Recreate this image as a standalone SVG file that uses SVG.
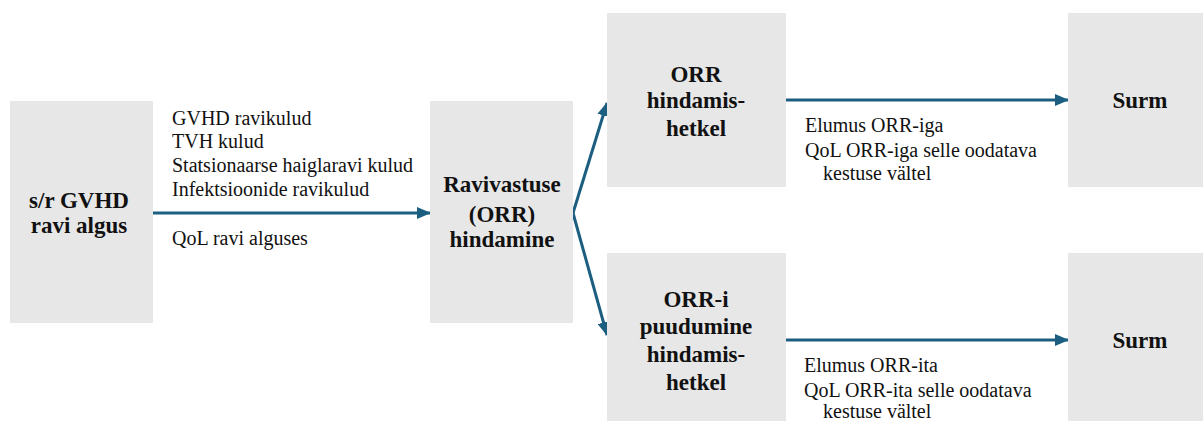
<svg xmlns="http://www.w3.org/2000/svg" width="1203" height="421" viewBox="0 0 1203 421">
<style>
.box{fill:#e7e7e7}
.nt{font-family:"Liberation Serif","Times New Roman",serif;font-weight:bold;font-size:23px;fill:#111;text-anchor:middle}
.lt{font-family:"Liberation Serif","Times New Roman",serif;font-size:20px;fill:#111}
.cn{stroke:#1b5e80;stroke-width:3;fill:none;marker-end:url(#ah)}
</style>
<defs>
<marker id="ah" markerUnits="userSpaceOnUse" markerWidth="14" markerHeight="12" refX="13" refY="6" orient="auto">
<path d="M0,0 L14,6 L0,12 Z" fill="#1b5e80"/>
</marker>
</defs>
<rect width="1203" height="421" fill="#fff"/>
<g id="connectors">
<line class="cn" x1="153" y1="213" x2="430" y2="213"/>
<line class="cn" x1="573" y1="213" x2="607" y2="103"/>
<line class="cn" x1="573" y1="213" x2="607" y2="335"/>
<line class="cn" x1="786" y1="100" x2="1068" y2="100"/>
<line class="cn" x1="786" y1="340" x2="1068" y2="340"/>
</g>
<g id="labels">
<text class="lt" x="172" y="125">GVHD ravikulud</text>
<text class="lt" x="172" y="148">TVH kulud</text>
<text class="lt" x="172" y="172">Statsionaarse haiglaravi kulud</text>
<text class="lt" x="172" y="196">Infektsioonide ravikulud</text>
<text class="lt" x="172" y="245">QoL ravi alguses</text>
<text class="lt" x="805" y="132">Elumus ORR-iga</text>
<text class="lt" x="805" y="157">QoL ORR-iga selle oodatava</text>
<text class="lt" x="823" y="180">kestuse vältel</text>
<text class="lt" x="804" y="372">Elumus ORR-ita</text>
<text class="lt" x="804" y="397">QoL ORR-ita selle oodatava</text>
<text class="lt" x="823" y="418">kestuse vältel</text>
</g>
<g id="start">
<rect class="box" x="10" y="101" width="143" height="222"/>
<text class="nt" x="79" y="208">s/r GVHD</text>
<text class="nt" x="79" y="233">ravi algus</text>
</g>
<g id="assess">
<rect class="box" x="430" y="101" width="143" height="222"/>
<text class="nt" x="502" y="192">Ravivastuse</text>
<text class="nt" x="502" y="222">(ORR)</text>
<text class="nt" x="502" y="247">hindamine</text>
</g>
<g id="orr">
<rect class="box" x="607" y="13" width="179" height="174"/>
<text class="nt" x="696" y="82">ORR</text>
<text class="nt" x="696" y="108">hindamis-</text>
<text class="nt" x="696" y="136">hetkel</text>
</g>
<g id="no-orr">
<rect class="box" x="607" y="253" width="179" height="168"/>
<text class="nt" x="696" y="307">ORR-i</text>
<text class="nt" x="696" y="334">puudumine</text>
<text class="nt" x="696" y="362">hindamis-</text>
<text class="nt" x="696" y="390">hetkel</text>
</g>
<g id="death1">
<rect class="box" x="1068" y="13" width="135" height="174"/>
<text class="nt" x="1140" y="108">Surm</text>
</g>
<g id="death2">
<rect class="box" x="1068" y="253" width="135" height="168"/>
<text class="nt" x="1140" y="348">Surm</text>
</g>
</svg>
